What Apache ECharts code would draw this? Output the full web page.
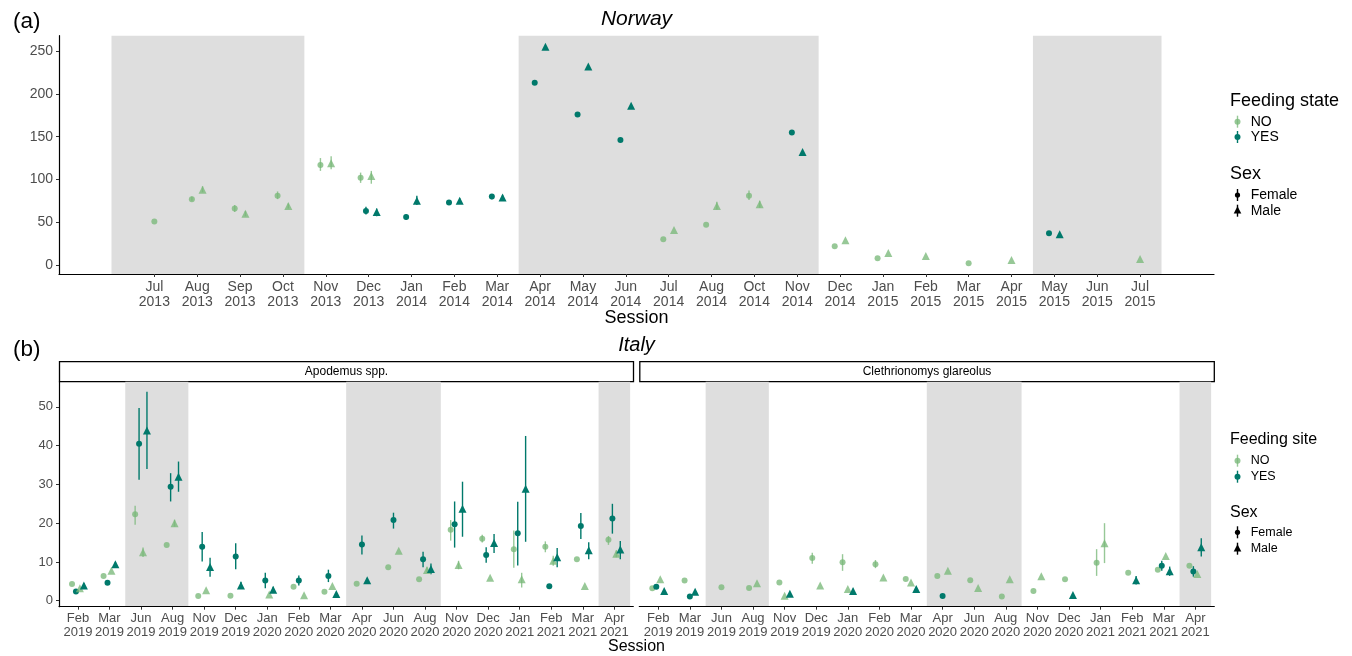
<!DOCTYPE html>
<html><head><meta charset="utf-8">
<script src="https://cdn.jsdelivr.net/npm/echarts@6/dist/echarts.min.js"></script>
<style>html,body{margin:0;padding:0;background:#fff}#c{width:1352px;height:656px}</style>
</head><body><div id="c"></div><script>
// ---------------- DATA ----------------
const norwayCats = ['Jul 2013','Aug 2013','Sep 2013','Oct 2013','Nov 2013','Dec 2013','Jan 2014','Feb 2014','Mar 2014','Apr 2014','May 2014','Jun 2014','Jul 2014','Aug 2014','Oct 2014','Nov 2014','Dec 2014','Jan 2015','Feb 2015','Mar 2015','Apr 2015','May 2015','Jun 2015','Jul 2015'];
const norwayYTicks = [0,50,100,150,200,250];
// order of groups: NO-Female, YES-Female, NO-Male, YES-Male
const nwNoF  = [51,77,66,81,117,102,null,null,null,null,null,null,30,47,81,null,22,8,null,2,null,null,null,null];
const nwYesF = [null,null,null,null,null,63,56,73,80,213,176,146,null,null,null,155,null,null,null,null,null,37,null,null];
const nwNoM  = [null,88,60,69,119,104,null,null,null,null,null,null,41,69,71,null,29,14,10.5,null,6,null,null,7];
const nwYesM = [null,null,null,null,null,62,75,75,79,255,232,186,null,null,null,132,null,null,null,null,null,36,null,null];
const nwNoFci  = [null,[75,80],[62,70],[77,86],[110,125],[96,108],null,null,null,null,null,null,null,null,[76,87],null,null,null,null,null,null,null,null,null];
const nwYesFci = [null,null,null,null,null,[59,68],[53,59],[70,76],[77,83],null,null,null,null,null,null,null,null,null,null,null,null,null,null,null];
const nwNoMci  = [null,[85,92],[57,63],[66,72],[112,127],[95,110],null,null,null,null,null,null,null,[65,74],[67,75],null,null,null,null,null,null,null,null,null];
const nwYesMci = [null,null,null,null,null,[57,66],[70,81],[72,78],[75,82],null,null,null,null,null,null,null,null,null,null,null,null,null,null,null];
const norwayShade = [[0,4.5],[9.5,16.5],[21.5,24.5]];

const italyCats = ['Feb 2019','Mar 2019','Jun 2019','Aug 2019','Nov 2019','Dec 2019','Jan 2020','Feb 2020','Mar 2020','Apr 2020','Jun 2020','Aug 2020','Nov 2020','Dec 2020','Jan 2021','Feb 2021','Mar 2021','Apr 2021'];
const italyYTicks = [0,10,20,30,40,50];
const italyShade = [[2.5,4.5],[9.5,12.5],[17.5,18.5]];
// Apodemus spp. (NaN = session present, no estimate)
const apNoF  = [4.3,6.4,22.3,14.4,1.2,1.3,NaN,3.6,2.3,4.4,8.6,5.5,18.3,16,13.3,13.9,10.7,15.7];
const apYesF = [2.4,4.6,40.5,29.4,13.9,11.4,5.2,5.2,6.4,14.5,20.8,10.7,19.7,11.8,17.4,3.7,19.3,21.2];
const apNoM  = [3.2,7.7,12.5,20,2.7,null,1.6,1.4,3.8,null,12.9,7.9,9.2,5.9,5.5,10.3,3.8,12.1];
const apYesM = [3.9,9.4,43.9,32,8.7,3.9,2.8,null,1.7,5.3,null,8.2,23.7,14.9,28.9,11.2,13,13.2];
const apNoFci  = [null,null,[19.6,24.5],null,null,null,null,null,null,null,null,null,[15.5,20.8],[15,17],[8.5,18.1],[12.5,15.3],null,[14.4,16.7]];
const apYesFci = [null,null,[31.2,49.7],[25.6,32.9],[10.1,17.7],[8.1,14.8],[3.2,7.2],[3.9,6.5],[4.8,8],[11.9,16.8],[18.6,22.7],[8.6,12.6],[13.7,25.6],[9.8,13.8],[9.1,25.5],null,[15.9,22.6],[17.3,25]];
const apNoMci  = [null,null,[11.3,13.7],[19.1,20.9],null,null,null,null,null,null,null,[7.2,8.6],[8.1,10.3],null,[3.4,7.2],[9,11.6],null,[11.2,13]];
const apYesMci = [[3.2,4.5],[8.8,10],[34,53.9],[28.1,35.9],[6.2,11.1],[3,4.9],[2,3.6],null,null,[4.8,5.8],null,[6.8,9.6],[16.5,30.7],[12.3,17.2],[15.2,42.5],[8.6,13.6],[10.7,15.1],[10.7,15.4]];
// Clethrionomys glareolus
const clNoF  = [3.2,5.2,3.5,3.3,4.7,11,9.9,9.4,5.6,6.4,5.3,1.1,2.5,5.5,9.8,7.2,8,9];
const clYesF = [3.6,1.1,null,null,null,null,null,null,null,1.2,null,null,null,null,null,null,9,7.5];
const clNoM  = [5.5,null,null,4.5,1.3,3.9,3,6,4.7,7.7,3.3,5.5,6.3,null,14.8,null,11.5,6.9];
const clYesM = [2.5,2.3,null,null,1.8,null,2.5,null,3,null,null,null,null,1.5,null,5.3,7.6,13.8];
const clNoFci  = [null,null,null,null,null,[9.5,12.4],[7.7,12],[8.4,10.5],null,null,null,null,null,null,[6.4,13.3],null,null,null];
const clYesFci = [null,null,null,null,null,null,null,null,null,null,null,null,null,null,null,null,[7.7,10.3],[6.2,8.9]];
const clNoMci  = [null,null,null,null,null,null,null,null,null,null,null,null,null,null,[9.7,20],null,null,null];
const clYesMci = [null,null,null,null,[1.4,2.2],null,[1.9,3.1],null,[2.4,3.6],null,null,null,null,null,null,[4.2,6.4],[6.4,8.8],[11.4,16.1]];

// ---------------- STYLE / BUILD ----------------
const FONT = '"Liberation Sans", Arial, Helvetica, sans-serif';
const LIGHT = 'rgba(122,184,122,0.78)';
const DARK = '#00796b';
const DODGE = 0.5;
const GSTYLE = [
  {color: LIGHT, symbol: 'circle', size: 6},
  {color: DARK, symbol: 'circle', size: 6},
  {color: LIGHT, symbol: 'triangle', size: 8},
  {color: DARK, symbol: 'triangle', size: 8}
];

function panelSeries(gi, est, ci, shade) {
  const n = est[0].length;
  const off = est.map(() => new Array(n).fill(0));
  for (let c = 0; c < n; c++) {
    const pres = [];
    for (let g = 0; g < 4; g++) if (est[g][c] !== null && est[g][c] !== undefined) pres.push(g);
    pres.forEach((g, k) => { off[g][c] = DODGE * ((k + 0.5) / pres.length - 0.5); });
  }
  const s = [];
  s.push({
    type: 'custom', xAxisIndex: gi, yAxisIndex: gi, silent: true, z: 0,
    data: shade.map(r => [r[0], r[1]]),
    encode: {x: [0, 1]},
    renderItem: function (params, api) {
      const cs = params.coordSys;
      const x0 = api.coord([api.value(0), 0])[0];
      const x1 = api.coord([api.value(1), 0])[0];
      return {type: 'rect', shape: {x: x0, y: cs.y, width: x1 - x0, height: cs.height}, style: {fill: '#dedede'}};
    }
  });
  for (let g = 0; g < 4; g++) {
    const st = GSTYLE[g];
    const eb = [];
    const pts = [];
    for (let c = 0; c < n; c++) {
      const v = est[g][c];
      if (v === null || v === undefined || isNaN(v)) continue;
      const x = c + 1 + off[g][c];
      pts.push([x, v]);
      if (ci[g][c]) eb.push([x, ci[g][c][0], ci[g][c][1]]);
    }
    s.push({
      type: 'custom', xAxisIndex: gi, yAxisIndex: gi, silent: true, z: 2,
      data: eb, encode: {x: 0, y: [1, 2]},
      renderItem: function (params, api) {
        const p1 = api.coord([api.value(0), api.value(1)]);
        const p2 = api.coord([api.value(0), api.value(2)]);
        return {type: 'line', shape: {x1: p1[0], y1: p1[1], x2: p2[0], y2: p2[1]}, style: {stroke: st.color, lineWidth: 1.4}};
      }
    });
    s.push({
      type: 'scatter', xAxisIndex: gi, yAxisIndex: gi, silent: true, z: 3,
      symbol: st.symbol, symbolSize: st.size, data: pts,
      itemStyle: {color: st.color, opacity: 1}
    });
  }
  return s;
}

function xAxisCfg(gi, cats, min, max, fs) {
  const vals = cats.map((_, i) => i + 1);
  return {
    type: 'value', gridIndex: gi, min: min, max: max,
    axisLine: {show: true, onZero: false, lineStyle: {color: '#000', width: 1.2}},
    axisTick: {show: true, length: 3, lineStyle: {color: '#333'}, customValues: vals},
    splitLine: {show: false},
    axisLabel: {
      customValues: vals, margin: fs > 13.5 ? 5 : 4, color: '#4d4d4d', fontSize: fs, lineHeight: fs + 1.5, fontFamily: FONT,
      formatter: v => { const t = cats[Math.round(v) - 1]; return t ? t.replace(' ', '\n') : ''; }
    }
  };
}
function yAxisCfg(gi, ticks, min, max, fs, show) {
  return {
    type: 'value', gridIndex: gi, min: min, max: max,
    axisLine: {show: show, onZero: false, lineStyle: {color: '#000', width: 1.2}},
    axisTick: {show: show, length: 3, lineStyle: {color: '#333'}, customValues: ticks},
    splitLine: {show: false},
    axisLabel: {show: show, customValues: ticks, margin: 6, color: '#4d4d4d', fontSize: fs, fontFamily: FONT}
  };
}

const grids = [
  {left: 59, top: 35.7, width: 1155, height: 238.3},
  {left: 59, top: 381.7, width: 574.3, height: 225},
  {left: 639.3, top: 381.7, width: 575, height: 225}
];
grids.forEach(g => { g.containLabel = false; g.outerBoundsMode = 'none'; });

const series = [].concat(
  panelSeries(0, [nwNoF, nwYesF, nwNoM, nwYesM], [nwNoFci, nwYesFci, nwNoMci, nwYesMci], norwayShade),
  panelSeries(1, [apNoF, apYesF, apNoM, apYesM], [apNoFci, apYesFci, apNoMci, apYesMci], italyShade),
  panelSeries(2, [clNoF, clYesF, clNoM, clYesM], [clNoFci, clYesFci, clNoMci, clYesMci], italyShade)
);

function txt(x, y, s, size, opts) {
  return Object.assign({type: 'text', x: x, y: y, silent: true,
    style: Object.assign({text: s, fontSize: size, fontFamily: FONT, fill: '#000', textVerticalAlign: 'middle', textAlign: 'left'}, opts || {})});
}
function key(x, y, color, shape, r) {
  const els = [{type: 'line', silent: true, shape: {x1: x, y1: y - 6, x2: x, y2: y + 6}, style: {stroke: color, lineWidth: 1.4}}];
  if (shape === 'circle') els.push({type: 'circle', silent: true, shape: {cx: x, cy: y, r: r}, style: {fill: color}});
  else els.push({type: 'polygon', silent: true, shape: {points: [[x, y - r - 1.5], [x - r - 0.8, y + r - 0.3], [x + r + 0.8, y + r - 0.3]]}, style: {fill: color}});
  return els;
}
function legend(x, ys, t1, t2, tfs, ifs) {
  let e = [];
  e.push(txt(x, ys[0], t1, tfs));
  e = e.concat(key(x + 7.5, ys[1], LIGHT, 'circle', 3)); e.push(txt(x + 20.7, ys[1], 'NO', ifs));
  e = e.concat(key(x + 7.5, ys[2], DARK, 'circle', 3)); e.push(txt(x + 20.7, ys[2], 'YES', ifs));
  e.push(txt(x, ys[3], t2, tfs));
  e = e.concat(key(x + 7.5, ys[4], '#000', 'circle', 2.6)); e.push(txt(x + 20.7, ys[4], 'Female', ifs));
  e = e.concat(key(x + 7.5, ys[5], '#000', 'triangle', 3)); e.push(txt(x + 20.7, ys[5], 'Male', ifs));
  return e;
}

let graphics = [
  txt(13, 22, '(a)', 22.5),
  txt(13, 350, '(b)', 22.5),
  txt(636.5, 19, 'Norway', 21, {textAlign: 'center', fontStyle: 'italic'}),
  txt(636.5, 345.5, 'Italy', 20, {textAlign: 'center', fontStyle: 'italic'}),
  txt(636.5, 318, 'Session', 18, {textAlign: 'center'}),
  txt(636.5, 647, 'Session', 16, {textAlign: 'center'}),
  Object.assign(txt(18, 155, 'Population size (Nt)', 18, {textAlign: 'center'}), {rotation: Math.PI / 2, originX: 18, originY: 155}),
  Object.assign(txt(30, 494, 'Population size (Nt)', 16, {textAlign: 'center'}), {rotation: Math.PI / 2, originX: 30, originY: 494}),
  {type: 'rect', silent: true, shape: {x: 59.5, y: 361.7, width: 574, height: 20}, style: {fill: '#fff', stroke: '#000', lineWidth: 1.3}},
  {type: 'rect', silent: true, shape: {x: 639.8, y: 361.7, width: 574.5, height: 20}, style: {fill: '#fff', stroke: '#000', lineWidth: 1.3}},
  txt(346.5, 372, 'Apodemus spp.', 12, {textAlign: 'center'}),
  txt(927, 372, 'Clethrionomys glareolus', 12, {textAlign: 'center'})
];
graphics = graphics.concat(legend(1230, [101, 121.7, 137, 173.7, 195, 210.7], 'Feeding state', 'Sex', 18, 14));
graphics = graphics.concat(legend(1230, [440, 460.7, 476.7, 512.7, 532.3, 548.7], 'Feeding site', 'Sex', 16, 12.5));

const chart = echarts.init(document.getElementById('c'), null, {renderer: 'canvas'});
chart.setOption({
  animation: false,
  backgroundColor: '#fff',
  textStyle: {fontFamily: FONT},
  grid: grids,
  xAxis: [
    xAxisCfg(0, norwayCats, -1.225, 25.725, 14),
    xAxisCfg(1, italyCats, 0.4, 18.6, 13),
    xAxisCfg(2, italyCats, 0.4, 18.6, 13)
  ],
  yAxis: [
    yAxisCfg(0, norwayYTicks, -10.5, 268, 14, true),
    yAxisCfg(1, italyYTicks, -1.55, 56.5, 13, true),
    yAxisCfg(2, italyYTicks, -1.55, 56.5, 13, false)
  ],
  series: series,
  graphic: graphics
});
</script></body></html>
